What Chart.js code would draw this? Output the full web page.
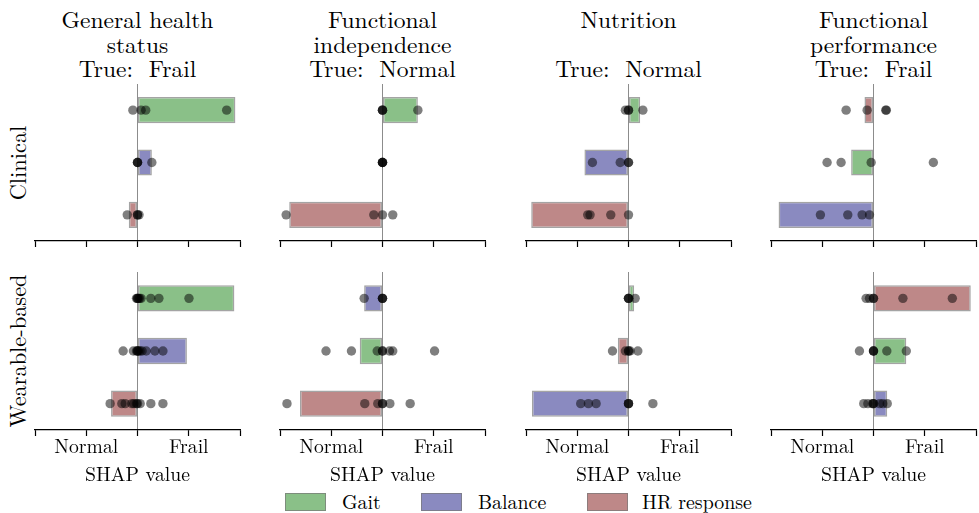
<!DOCTYPE html>
<html>
<head>
<meta charset="utf-8">
<script src="https://cdn.jsdelivr.net/npm/chart.js@4/dist/chart.umd.min.js"></script>
<style>
html,body{margin:0;padding:0;width:979px;height:513px;overflow:hidden;background:#fff;color:#000;}
canvas{position:absolute;}
.title{position:absolute;top:6px;width:260px;text-align:center;line-height:24.5px;white-space:pre;}
.rowlab{position:absolute;white-space:nowrap;transform:translate(-50%,-50%) rotate(-90deg);}
.lbox{position:absolute;top:493px;width:41px;height:18px;box-sizing:border-box;border:1.5px solid rgba(120,120,120,0.7);}
.ltext{position:absolute;top:491px;line-height:21px;white-space:nowrap;}
</style>
</head>
<body>
<div id="root"></div>
<script>
// ---------- data ----------
const features = ["Gait", "Balance", "HR response"];
const featureColors = ["rgb(138,192,136)", "rgb(138,138,192)", "rgb(190,136,136)"];
const panelTitles = [
  ["General health", "status", "True:  Frail"],
  ["Functional", "independence", "True:  Normal"],
  ["Nutrition", "", "True:  Normal"],
  ["Functional", "performance", "True:  Frail"]
];
const rowNames = ["Clinical", "Wearable-based"];
const tickValues = [-1, -0.5, 0, 0.5, 1];
const tickText = ["", "Normal", "", "Frail", ""];
const axisTitle = "SHAP value";

// Clinical row
const clinGeneralOrder = ["Gait", "Balance", "HR response"];
const clinGeneralBars = [0.955, 0.14, -0.085];
const clinGeneralPts = [[-0.045, 0.035, 0.08, 0.87], [0, 0, 0, 0.14], [-0.1, 0, 0, 0.015]];

const clinIndepOrder = ["Gait", "Balance", "HR response"];
const clinIndepBars = [0.345, 0, -0.91];
const clinIndepPts = [[0, 0, 0, 0.345], [0, 0, 0, 0], [-0.94, -0.085, 0, 0.1]];

const clinNutritionOrder = ["Gait", "Balance", "HR response"];
const clinNutritionBars = [0.114, -0.43, -0.949];
const clinNutritionPts = [[-0.03, 0, 0, 0.14], [-0.352, -0.081, 0, 0], [-0.398, -0.375, -0.173, 0]];

const clinPerfOrder = ["HR response", "Gait", "Balance"];
const clinPerfBars = [-0.088, -0.218, -0.926];
const clinPerfPts = [[-0.267, -0.062, 0.12, 0.125], [-0.453, -0.316, -0.023, 0.584], [-0.518, -0.251, -0.111, -0.039]];

// Wearable-based row
const wearGeneralOrder = ["Gait", "Balance", "HR response"];
const wearGeneralBars = [0.945, 0.482, -0.258];
const wearGeneralPts = [
  [-0.01, 0, 0, 0.01, 0.02, 0.035, 0.13, 0.209, 0.502],
  [-0.14, -0.04, -0.01, 0, 0, 0.01, 0.025, 0.045, 0.085, 0.17, 0.248],
  [-0.267, -0.153, -0.12, -0.055, -0.035, -0.01, 0, 0.026, 0.13, 0.248]
];

const wearIndepOrder = ["Balance", "Gait", "HR response"];
const wearIndepBars = [-0.179, -0.222, -0.805];
const wearIndepPts = [
  [-0.179, 0, 0, 0],
  [-0.551, -0.303, -0.052, 0, 0, 0.068, 0.1, 0.508],
  [-0.932, -0.173, -0.046, 0, 0, 0.072, 0.27]
];

const wearNutritionOrder = ["Gait", "HR response", "Balance"];
const wearNutritionBars = [0.055, -0.104, -0.942];
const wearNutritionPts = [
  [0, 0, 0, 0.065],
  [-0.156, -0.03, 0, 0, 0.016, 0.091],
  [-0.466, -0.391, -0.316, 0, 0, 0, 0.238]
];

const wearPerfOrder = ["HR response", "Gait", "Balance"];
const wearPerfBars = [0.949, 0.32, 0.134];
const wearPerfPts = [
  [-0.072, -0.039, 0, 0, 0.287, 0.769],
  [-0.137, 0, 0, 0, 0.13, 0.32],
  [-0.095, -0.055, -0.01, 0, 0, 0.059, 0.091, 0.134]
];

// ---------- font selection (first installed serif face) ----------
const mctx = document.createElement('canvas').getContext('2d');
function textW(font, s) { mctx.font = font; return mctx.measureText(s).width; }
function installed(name) {
  const s = 'General health Wearable-based 0123';
  return textW('40px monospace', s) !== textW(`40px "${name}", monospace`, s) ||
         textW('40px sans-serif', s) !== textW(`40px "${name}", sans-serif`, s);
}
const serifCandidates = ["Latin Modern Roman", "CMU Serif", "Liberation Serif", "DejaVu Serif",
  "Noto Serif", "Tinos", "Times New Roman", "Nimbus Roman", "FreeSerif", "Georgia"];
const chosen = serifCandidates.find(installed);
const FONT = chosen ? `"${chosen}", serif` : 'serif';
// size each text role so its width matches the reference
function fitSize(str, targetW) { return Math.max(14, Math.min(30, 100 * targetW / textW(`100px ${FONT}`, str))); }
const titleSize = fitSize("General health", 152);
const tickSize = fitSize("Normal", 64);
const axisTitleSize = fitSize("SHAP value", 105);
const rowSize = fitSize("Wearable-based", 153);
const legendSize = fitSize("HR response", 110);

// ---------- layout ----------
const panelLefts = [35, 280, 526, 771];
const panelWidth = 205;
const sidePad = 3;
const rowsLayout = [
  {top: 84, plotH: 157, axisH: 10, labels: false},
  {top: 272, plotH: 158, axisH: 55, labels: true}
];
const panels = [
  [clinGeneralOrder, clinGeneralBars, clinGeneralPts],
  [clinIndepOrder, clinIndepBars, clinIndepPts],
  [clinNutritionOrder, clinNutritionBars, clinNutritionPts],
  [clinPerfOrder, clinPerfBars, clinPerfPts],
  [wearGeneralOrder, wearGeneralBars, wearGeneralPts],
  [wearIndepOrder, wearIndepBars, wearIndepPts],
  [wearNutritionOrder, wearNutritionBars, wearNutritionPts],
  [wearPerfOrder, wearPerfBars, wearPerfPts]
];

const root = document.getElementById('root');
const colorOf = f => featureColors[features.indexOf(f)];

function makePanel(row, col) {
  const [order, bars, pts] = panels[row * 4 + col];
  const L = rowsLayout[row];
  const cv = document.createElement('canvas');
  const w = panelWidth + 2 * sidePad;
  const h = L.plotH + L.axisH;
  cv.width = w; cv.height = h;
  cv.style.left = (panelLefts[col] - sidePad) + 'px';
  cv.style.top = L.top + 'px';
  cv.style.width = w + 'px'; cv.style.height = h + 'px';
  root.appendChild(cv);

  const scatterData = [];
  pts.forEach((list, i) => list.forEach(v => scatterData.push({x: v, y: order[i]})));

  new Chart(cv, {
    type: 'bar',
    data: {
      labels: order,
      datasets: [
        {
          type: 'bar',
          data: bars,
          backgroundColor: order.map(colorOf),
          borderColor: 'rgba(115,115,115,0.65)',
          borderWidth: 1.5,
          borderSkipped: false,
          barPercentage: 0.5,
          categoryPercentage: 1,
          order: 2
        },
        {
          type: 'scatter',
          data: scatterData,
          backgroundColor: 'rgba(0,0,0,0.5)',
          borderWidth: 0,
          pointRadius: 4.7,
          pointHoverRadius: 4.7,
          order: 1
        }
      ]
    },
    options: {
      indexAxis: 'y',
      responsive: false,
      animation: false,
      events: [],
      devicePixelRatio: 1,
      layout: {padding: {left: sidePad, right: sidePad, top: 0, bottom: 0}, autoPadding: false},
      plugins: {legend: {display: false}, tooltip: {enabled: false}},
      scales: {
        x: {
          type: 'linear', min: -1, max: 1,
          ticks: {
            stepSize: 0.5, autoSkip: false, maxRotation: 0, minRotation: 0, padding: 1,
            color: '#000', font: {family: FONT, size: tickSize, lineHeight: 1},
            callback: v => L.labels ? tickText[tickValues.indexOf(v)] : ''
          },
          grid: {
            drawOnChartArea: true,
            color: ctx => (ctx.tick && ctx.tick.value === 0) ? 'rgba(0,0,0,0.45)' : 'rgba(0,0,0,0)',
            lineWidth: 1,
            tickColor: '#000', tickLength: 6, tickWidth: 1.2
          },
          border: {display: true, color: '#000', width: 1.2},
          title: {
            display: L.labels, text: axisTitle, color: '#000',
            font: {family: FONT, size: axisTitleSize, lineHeight: 1}, padding: {top: 3, bottom: 0}
          },
          afterFit: s => { s.height = L.axisH; }
        },
        y: {type: 'category', labels: order, offset: true, display: false}
      }
    }
  });
}

for (let r = 0; r < 2; r++) for (let c = 0; c < 4; c++) makePanel(r, c);

// titles
panelTitles.forEach((lines, c) => {
  const d = document.createElement('div');
  d.className = 'title';
  d.style.fontFamily = FONT;
  d.style.fontSize = titleSize + 'px';
  d.textContent = lines.join('\n');
  d.style.left = (panelLefts[c] + panelWidth / 2 - 130) + 'px';
  root.appendChild(d);
});
// row labels
const rowCenters = [84 + 157 / 2, 272 + 158 / 2];
rowNames.forEach((n, r) => {
  const d = document.createElement('div');
  d.className = 'rowlab';
  d.style.fontFamily = FONT;
  d.style.fontSize = rowSize + 'px';
  d.textContent = n;
  d.style.left = '16px';
  d.style.top = rowCenters[r] + 'px';
  root.appendChild(d);
});
// legend
const legendBoxX = [285, 421, 587];
const legendTextX = [342, 478, 642];
features.forEach((f, i) => {
  const b = document.createElement('div');
  b.className = 'lbox';
  b.style.left = legendBoxX[i] + 'px';
  b.style.background = featureColors[i];
  root.appendChild(b);
  const t = document.createElement('div');
  t.className = 'ltext';
  t.style.fontFamily = FONT;
  t.style.fontSize = legendSize + 'px';
  t.style.left = legendTextX[i] + 'px';
  t.textContent = f;
  root.appendChild(t);
});
</script>
</body>
</html>
